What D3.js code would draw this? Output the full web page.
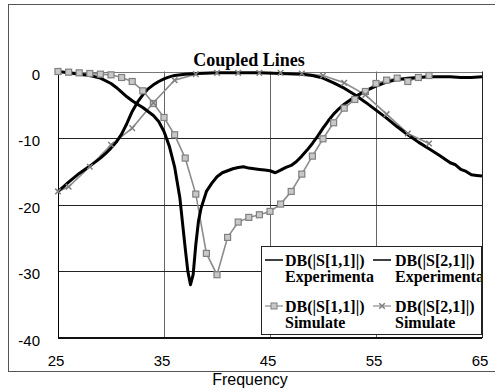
<!DOCTYPE html>
<html>
<head>
<meta charset="utf-8">
<script src="https://cdn.jsdelivr.net/npm/d3@7/dist/d3.min.js"></script>
<style>
  body { margin: 0; background: #fff; }
  svg { display: block; }
</style>
</head>
<body>
<div id="chart"></div>
<script>
// ticks
const xTicks = [25, 35, 45, 55, 65];
const yTicks = [0, -10, -20, -30, -40];

// DB(|S[1,1]|) experimental
const s11ExpFreq = [25, 26, 27, 28, 29, 30, 30.5, 31, 31.5, 32, 32.5, 33, 33.5, 34, 34.5, 35, 35.5, 36, 36.5, 37, 37.25, 37.5, 37.75, 38, 38.25, 38.5, 39, 39.5, 40, 40.5, 41, 41.5, 42, 42.5, 43, 43.5, 44, 44.5, 45, 45.5, 46, 46.5, 47, 47.5, 48, 48.5, 49, 49.5, 50, 50.5, 51, 51.5, 52, 53, 54, 55, 56, 57, 58, 59, 60, 61, 62, 63, 64, 65];
const s11ExpDb = [0, -0.2, -0.4, -0.6, -1.0, -1.8, -2.4, -3.1, -3.8, -4.4, -4.9, -5.4, -6.0, -6.6, -7.5, -9.0, -11.2, -14.3, -19.0, -26.5, -30.0, -32.0, -30.5, -26.0, -22.5, -20.5, -18.0, -16.8, -15.8, -15.2, -14.9, -14.6, -14.4, -14.3, -14.5, -14.6, -14.7, -14.8, -14.9, -15.2, -14.8, -14.4, -14.1, -13.5, -12.7, -11.8, -10.8, -9.7, -8.5, -7.4, -6.4, -5.6, -4.9, -3.8, -2.9, -2.2, -1.6, -1.2, -1.0, -0.9, -0.8, -0.8, -0.8, -0.9, -0.9, -0.8];

// DB(|S[2,1]|) experimental
const s21ExpFreq = [25, 25.5, 26, 27, 28, 29, 29.5, 30, 30.5, 31, 31.5, 32, 32.5, 33, 33.5, 34, 34.5, 35, 35.5, 36, 37, 38, 40, 42, 44, 46, 48, 49, 50, 51, 52, 53, 54, 55, 56, 57, 58, 59, 60, 61, 62, 62.5, 63, 63.5, 64, 64.5, 65];
const s21ExpDb = [-18.0, -17.3, -16.6, -15.3, -14.2, -13.0, -12.3, -11.5, -10.6, -9.4, -7.8, -6.0, -4.6, -3.5, -2.6, -2.0, -1.5, -1.1, -0.8, -0.6, -0.4, -0.3, -0.2, -0.2, -0.2, -0.3, -0.4, -0.6, -1.0, -1.7, -2.5, -3.5, -4.6, -5.8, -7.0, -8.3, -9.5, -10.6, -11.6, -12.6, -13.7, -14.0, -14.7, -15.0, -15.5, -15.6, -15.7];

// DB(|S[1,1]|) simulated
const s11SimFreq = [25, 26, 27, 28, 29, 30, 31, 32, 33, 34, 35, 36, 37, 38, 39, 40, 41, 42, 43, 44, 45, 46, 47, 48, 49, 50, 51, 52, 53, 54, 55, 56, 57, 58, 59, 60];
const s11SimDb = [0, -0.1, -0.2, -0.3, -0.4, -0.5, -0.9, -1.5, -2.9, -4.8, -6.9, -9.5, -13.0, -18.4, -27.3, -30.5, -24.9, -22.6, -21.9, -21.5, -21.0, -19.9, -18.0, -15.4, -12.7, -10.1, -7.7, -5.5, -4.2, -3.0, -1.8, -1.3, -1.0, -1.5, -0.9, -0.6];

// DB(|S[2,1]|) simulated
const s21SimFreq = [25, 26, 28, 30, 32, 34, 36, 38, 40, 42, 44, 46, 48, 50, 52, 54, 56, 58, 60];
const s21SimDb = [-18.0, -17.3, -14.3, -11.0, -8.5, -4.7, -1.3, -0.4, -0.2, -0.2, -0.2, -0.2, -0.3, -0.6, -1.7, -3.5, -6.4, -9.3, -10.8];

const width = 495, height = 392;
const margin = {top: 71.5, right: 13, bottom: 54, left: 58};

const svg = d3.select('#chart')
    .append('svg')
        .attr('width', width)
        .attr('height', height);

// outer chart frame
svg.append('rect')
    .attr('x', 8.5).attr('y', 4.5)
    .attr('width', 500).attr('height', 367)
    .attr('fill', 'none')
    .attr('stroke', '#555')
    .attr('stroke-width', 1);

const x = d3.scaleLinear()
    .domain([25, 65])
    .range([margin.left, width - margin.right]);
const y = d3.scaleLinear()
    .domain([-40, 0])
    .range([height - margin.bottom, margin.top]);

// grid
svg.append('g')
    .selectAll('line')
    .data(xTicks.slice(1, -1))
    .join('line')
        .attr('x1', d => Math.round(x(d)) + 0.5)
        .attr('x2', d => Math.round(x(d)) + 0.5)
        .attr('y1', y(0))
        .attr('y2', y(-40))
        .attr('stroke', '#666');
svg.append('g')
    .selectAll('line')
    .data(yTicks.slice(1, -1))
    .join('line')
        .attr('x1', x(25))
        .attr('x2', x(65))
        .attr('y1', d => Math.round(y(d)) + 0.5)
        .attr('y2', d => Math.round(y(d)) + 0.5)
        .attr('stroke', '#222');

// plot border
svg.append('line')
    .attr('x1', x(25)).attr('x2', x(65))
    .attr('y1', Math.round(y(0)) + 0.5).attr('y2', Math.round(y(0)) + 0.5)
    .attr('stroke', '#777');
svg.append('line')
    .attr('x1', Math.round(x(25)) + 0.5).attr('x2', Math.round(x(25)) + 0.5)
    .attr('y1', y(0)).attr('y2', y(-40))
    .attr('stroke', '#000');
svg.append('line')
    .attr('x1', Math.round(x(65)) + 0.5).attr('x2', Math.round(x(65)) + 0.5)
    .attr('y1', y(0)).attr('y2', y(-40))
    .attr('stroke', '#222');
svg.append('line')
    .attr('x1', x(25)).attr('x2', x(65))
    .attr('y1', y(-40)).attr('y2', y(-40))
    .attr('stroke', '#111')
    .attr('stroke-width', 2);

// tick labels
svg.append('g')
    .selectAll('text')
    .data(yTicks)
    .join('text')
        .attr('x', 40)
        .attr('y', d => y(d) + 8)
        .attr('text-anchor', 'end')
        .attr('font-family', 'Liberation Sans, Arial, sans-serif')
        .attr('font-size', 15)
        .text(d => d);
svg.append('g')
    .selectAll('text')
    .data(xTicks)
    .join('text')
        .attr('x', d => x(d) - 2)
        .attr('y', 366)
        .attr('text-anchor', 'middle')
        .attr('font-family', 'Liberation Sans, Arial, sans-serif')
        .attr('font-size', 15)
        .text(d => d);

svg.append('text')
    .attr('x', 250)
    .attr('y', 385)
    .attr('text-anchor', 'middle')
    .attr('font-family', 'Liberation Sans, Arial, sans-serif')
    .attr('font-size', 16)
    .text('Frequency');

svg.append('text')
    .attr('x', 249)
    .attr('y', 66)
    .attr('text-anchor', 'middle')
    .attr('font-family', 'Liberation Serif, Times New Roman, serif')
    .attr('font-weight', 'bold')
    .attr('font-size', 18)
    .text('Coupled Lines');

const line = d3.line()
    .x(d => x(d[0]))
    .y(d => y(d[1]));

const zip = (a, b) => a.map((v, i) => [v, b[i]]);

const s11Exp = zip(s11ExpFreq, s11ExpDb);
const s21Exp = zip(s21ExpFreq, s21ExpDb);
const s11Sim = zip(s11SimFreq, s11SimDb);
const s21Sim = zip(s21SimFreq, s21SimDb);

const plot = svg.append('g');

// simulated
plot.append('path')
    .datum(s21Sim)
    .attr('fill', 'none')
    .attr('stroke', '#8c8c8c')
    .attr('stroke-width', 1.6)
    .attr('d', line);
plot.append('path')
    .datum(s11Sim)
    .attr('fill', 'none')
    .attr('stroke', '#8c8c8c')
    .attr('stroke-width', 1.6)
    .attr('d', line);

// experimental
plot.append('path')
    .datum(s11Exp)
    .attr('fill', 'none')
    .attr('stroke', '#000')
    .attr('stroke-width', 3)
    .attr('stroke-linejoin', 'round')
    .attr('d', line);
plot.append('path')
    .datum(s21Exp)
    .attr('fill', 'none')
    .attr('stroke', '#000')
    .attr('stroke-width', 3)
    .attr('stroke-linejoin', 'round')
    .attr('d', line);

// markers
plot.append('g')
    .selectAll('rect')
    .data(s11Sim)
    .join('rect')
        .attr('x', d => x(d[0]) - 3)
        .attr('y', d => y(d[1]) - 3)
        .attr('width', 6)
        .attr('height', 6)
        .attr('fill', '#c8c8c8')
        .attr('stroke', '#808080')
        .attr('stroke-width', 1.2);
plot.append('g')
    .selectAll('path')
    .data(s21Sim)
    .join('path')
        .attr('transform', d => `translate(${x(d[0])},${y(d[1])})`)
        .attr('d', d3.symbol(d3.symbolX, 22))
        .attr('fill', 'none')
        .attr('stroke', '#808080')
        .attr('stroke-width', 1.5);

// legend
svg.append('clipPath')
    .attr('id', 'legendClip')
    .append('rect')
        .attr('x', 261).attr('y', 246)
        .attr('width', 220).attr('height', 89);

const legend = svg.append('g');
legend.append('rect')
    .attr('x', 261.5).attr('y', 246.5)
    .attr('width', 220).attr('height', 88)
    .attr('fill', '#fff')
    .attr('stroke', '#222');

const legendItems = [
    {col: 0, row: 0, name: 'DB(|S[1,1]|)', sub: 'Experimenta', kind: 'exp'},
    {col: 1, row: 0, name: 'DB(|S[2,1]|)', sub: 'Experimenta', kind: 'exp'},
    {col: 0, row: 1, name: 'DB(|S[1,1]|)', sub: 'Simulate', kind: 'sq'},
    {col: 1, row: 1, name: 'DB(|S[2,1]|)', sub: 'Simulate', kind: 'x'}
];

const legendBody = legend.append('g').attr('clip-path', 'url(#legendClip)');

legendItems.forEach(it => {
    const lx = it.col === 0 ? 265 : 373;
    const tx = it.col === 0 ? 285 : 395;
    const ly = it.row === 0 ? 260 : 306;
    const by = it.row === 0 ? 266 : 312;
    const g = legendBody.append('g');
    g.append('line')
        .attr('x1', lx).attr('x2', lx + 18)
        .attr('y1', ly).attr('y2', ly)
        .attr('stroke', it.kind === 'exp' ? '#000' : '#8c8c8c')
        .attr('stroke-width', it.kind === 'exp' ? 1.5 : 1.2);
    if (it.kind === 'sq') {
        g.append('rect')
            .attr('x', lx + 6).attr('y', ly - 3)
            .attr('width', 6).attr('height', 6)
            .attr('fill', '#c8c8c8')
            .attr('stroke', '#808080');
    } else if (it.kind === 'x') {
        g.append('path')
            .attr('transform', `translate(${lx + 9},${ly})`)
            .attr('d', d3.symbol(d3.symbolX, 22))
            .attr('fill', 'none')
            .attr('stroke', '#808080')
            .attr('stroke-width', 1.5);
    }
    g.append('text')
        .attr('x', tx).attr('y', by)
        .attr('font-family', 'Liberation Serif, Times New Roman, serif')
        .attr('font-weight', 'bold')
        .attr('font-size', 16)
        .text(it.name);
    g.append('text')
        .attr('x', tx).attr('y', by + 16)
        .attr('font-family', 'Liberation Serif, Times New Roman, serif')
        .attr('font-weight', 'bold')
        .attr('font-size', 16)
        .text(it.sub);
});
</script>
</body>
</html>
